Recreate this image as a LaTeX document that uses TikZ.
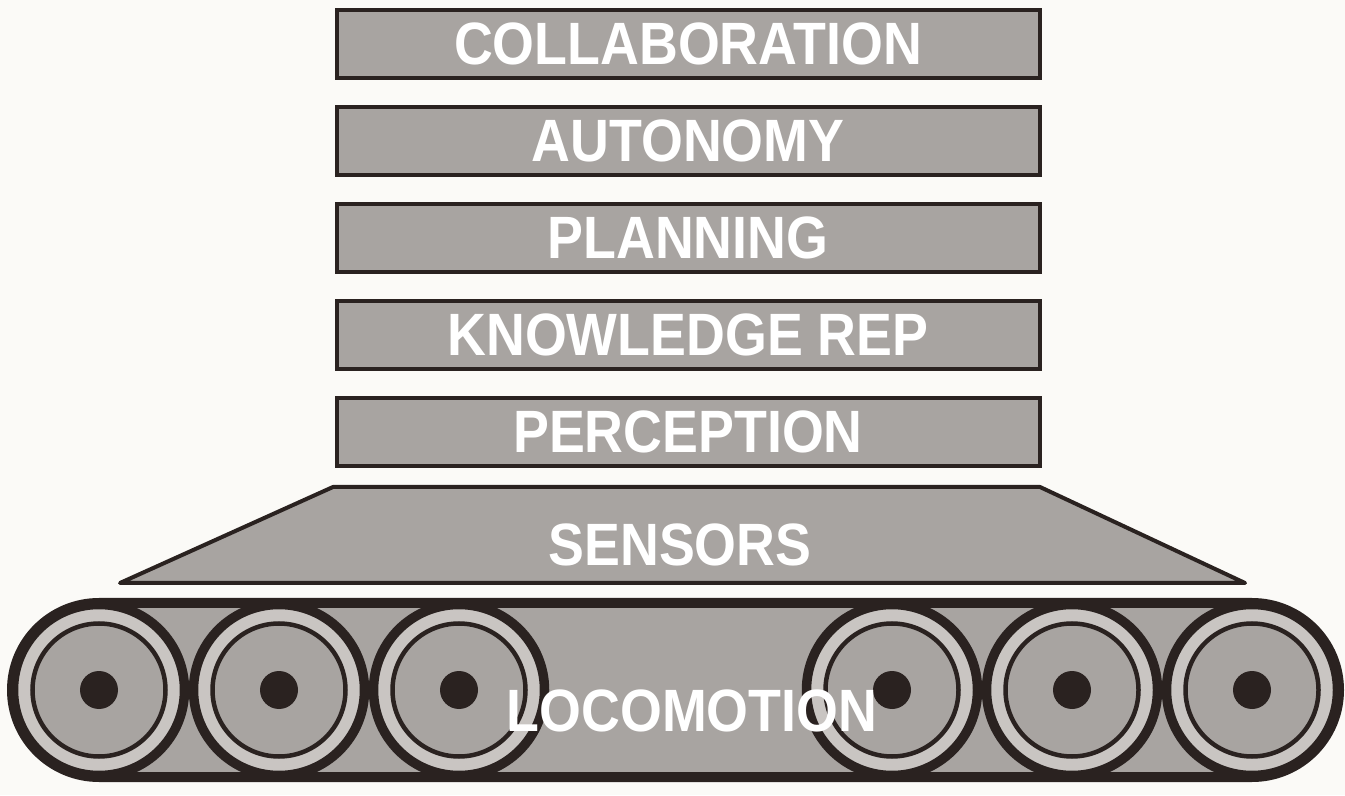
\documentclass[tikz,border=0pt]{standalone}
\usepackage{fontspec}
\usepackage{tikz}
\usetikzlibrary{positioning}
\newfontfamily\layerfont{Liberation Sans}[FakeStretch=0.9]
\definecolor{ink}{HTML}{2A2220}
\definecolor{halftone}{HTML}{A8A4A1}
\definecolor{rimgray}{HTML}{C9C5C2}
\definecolor{paper}{HTML}{FBFAF7}

\begin{document}
\begin{tikzpicture}[
    node distance=0.5cm,
    layer/.style={draw=ink, line width=0.08cm, fill=halftone, text=white, inner sep=0pt,
      font=\layerfont\bfseries\fontsize{34}{34}\selectfont, minimum width=14.06cm, minimum height=1.36cm},
    caption/.style={text=white, inner sep=0pt, font=\layerfont\bfseries\fontsize{34}{34}\selectfont},
    base/.style={draw=ink, line width=0.08cm, fill=halftone, line join=round},
    track/.style={draw=ink, line width=0.2cm, fill=halftone},
    rim/.style={draw=ink, line width=0.19cm, fill=rimgray},
    disc/.style={draw=ink, line width=0.09cm, fill=halftone}
  ]
    \fill[paper] (0,0) rectangle (26.9,15.9);
    \useasboundingbox (0,0) rectangle (26.9,15.9);

    % stack of software layers
    \node[layer] (collab) at (13.76,15.02) {COLLABORATION};
    \node[layer, below=of collab] (auto) {AUTONOMY};
    \node[layer, below=of auto] (plan) {PLANNING};
    \node[layer, below=of plan] (know) {KNOWLEDGE REP};
    \node[layer, below=of know] (perc) {PERCEPTION};

    % sensor platform
    \draw[base] (2.4,4.24) -- (6.66,6.16) -- (20.8,6.16) -- (24.9,4.24) -- cycle;
    \node[caption] (sens) at (13.6,5.0) {SENSORS};

    % tracked base with its wheels
    \draw[track, rounded corners=1.74cm] (0.24,0.36) rectangle (26.78,3.84);
    \foreach \x [count=\i] in {1.98,5.58,9.18,17.84,21.44,25.04} {
      \draw[rim] (\x,2.1) circle (1.71cm);
      \draw[disc] (\x,2.1) circle (1.33cm);
      \fill[ink] (\x,2.1) circle (0.38cm) coordinate (hub\i);
    }
    \node[caption] (loco) at (13.84,1.68) {LOCOMOTION};
  \end{tikzpicture}
\end{document}
